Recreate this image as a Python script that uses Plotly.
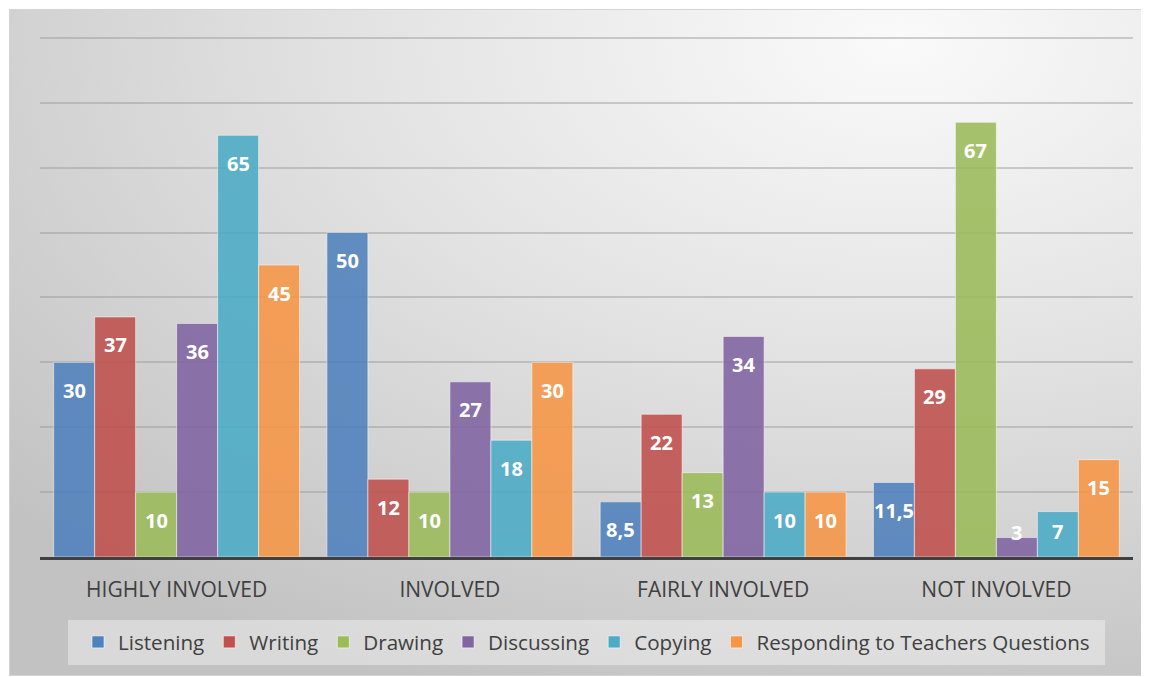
import base64
import plotly.graph_objects as go

# ---- data ----
categories = ["HIGHLY INVOLVED", "INVOLVED", "FAIRLY INVOLVED", "NOT INVOLVED"]
series_names = ["Listening", "Writing", "Drawing", "Discussing", "Copying",
                "Responding to Teachers Questions"]
listening = [30, 50, 8.5, 11.5]
writing = [37, 12, 22, 29]
drawing = [10, 10, 13, 67]
discussing = [36, 27, 34, 3]
copying = [65, 18, 10, 7]
responding = [45, 30, 10, 15]
series_values = [listening, writing, drawing, discussing, copying, responding]
colors = ["#4F81BD", "#C0504D", "#9BBB59", "#8064A2", "#4BACC6", "#F79646"]

# ---- geometry (page has an 8px body margin) ----
OFF = 8
W, H = 1149 - OFF, 677 - OFF
Y_MAX = 80.3
ppu = (557 - 38) / 80.0
plot_left, plot_right, plot_bottom = 40 - OFF, 1133 - OFF, 557 - OFF
PH = Y_MAX * ppu
plot_top = plot_bottom - PH
ML, MR, MT, MB = plot_left, W - plot_right, plot_top, H - plot_bottom
PW = plot_right - plot_left
BARGAP = 0.1

def px_x(p):
    return (p - OFF - plot_left) / PW

def px_y(p):
    return (plot_bottom - (p - OFF)) / PH

svg = f'''<svg xmlns="http://www.w3.org/2000/svg" width="{W}" height="{H}" viewBox="0 0 {W} {H}">
<defs><radialGradient id="g" cx="0.78" cy="0.05" r="1.05">
<stop offset="0" stop-color="#fafafa"/><stop offset="0.45" stop-color="#e3e3e3"/>
<stop offset="1" stop-color="#c2c2c2"/></radialGradient></defs>
<rect x="0" y="0" width="{W}" height="{H}" fill="#ffffff"/>
<rect x="1.5" y="1.5" width="{W-2.5}" height="{H-3}" fill="url(#g)" stroke="#d4d4d4" stroke-width="1"/>
</svg>'''
src = "data:image/svg+xml;base64," + base64.b64encode(svg.encode()).decode()

fig = go.Figure()
for name, vals, col in zip(series_names, series_values, colors):
    fig.add_trace(go.Bar(
        name=name, x=categories, y=vals,
        marker=dict(color=col, opacity=0.88,
                    line=dict(color="rgba(255,255,255,0.55)", width=1)),
        hoverinfo="skip",
    ))

annotations = []
n = len(series_names)
bw = (1 - BARGAP) / n
for j, vals in enumerate(series_values):
    for i, v in enumerate(vals):
        shift = -min(28, v * ppu - 25)
        annotations.append(dict(
            x=i + (j - (n - 1) / 2) * bw, y=v, xref="x", yref="y",
            text=f"{v:g}".replace(".", ","), showarrow=False,
            yshift=shift, yanchor="middle", xanchor="center",
            font=dict(family="Open Sans", size=20, color="white", weight="bold"),
        ))

fig.update_layout(
    width=W, height=H,
    margin=dict(l=ML, r=MR, t=MT, b=MB, pad=0),
    paper_bgcolor="white", plot_bgcolor="rgba(0,0,0,0)",
    barmode="group", bargap=BARGAP, bargroupgap=0,
    font=dict(family="Open Sans", color="#404040"),
    images=[dict(source=src, xref="paper", yref="paper",
                 x=-ML / PW, y=1 + MT / PH, sizex=W / PW, sizey=H / PH,
                 xanchor="left", yanchor="top", sizing="stretch", layer="below")],
    shapes=[dict(type="rect", xref="paper", yref="paper",
                 x0=px_x(68), x1=px_x(1105), y0=px_y(665), y1=px_y(620),
                 fillcolor="rgba(255,255,255,0.38)", line=dict(width=0), layer="below")],
    annotations=annotations,
    legend=dict(orientation="h", x=px_x(586.5), xanchor="center", y=px_y(642), yanchor="middle",
                bgcolor="rgba(0,0,0,0)", font=dict(size=20.6, color="#404040"),
                itemwidth=30, traceorder="normal"),
    showlegend=True,
)
fig.update_xaxes(showline=True, linecolor="#404040", linewidth=3, showgrid=False,
                 ticks="outside", ticklen=12, tickcolor="rgba(0,0,0,0)",
                 tickfont=dict(size=21, color="#404040"), layer="above traces")
fig.update_yaxes(range=[0, Y_MAX], tick0=0, dtick=10, showgrid=True,
                 gridcolor="rgba(150,150,150,0.45)", gridwidth=1.5,
                 showticklabels=False, zeroline=False)

fig.write_html("out.html")
